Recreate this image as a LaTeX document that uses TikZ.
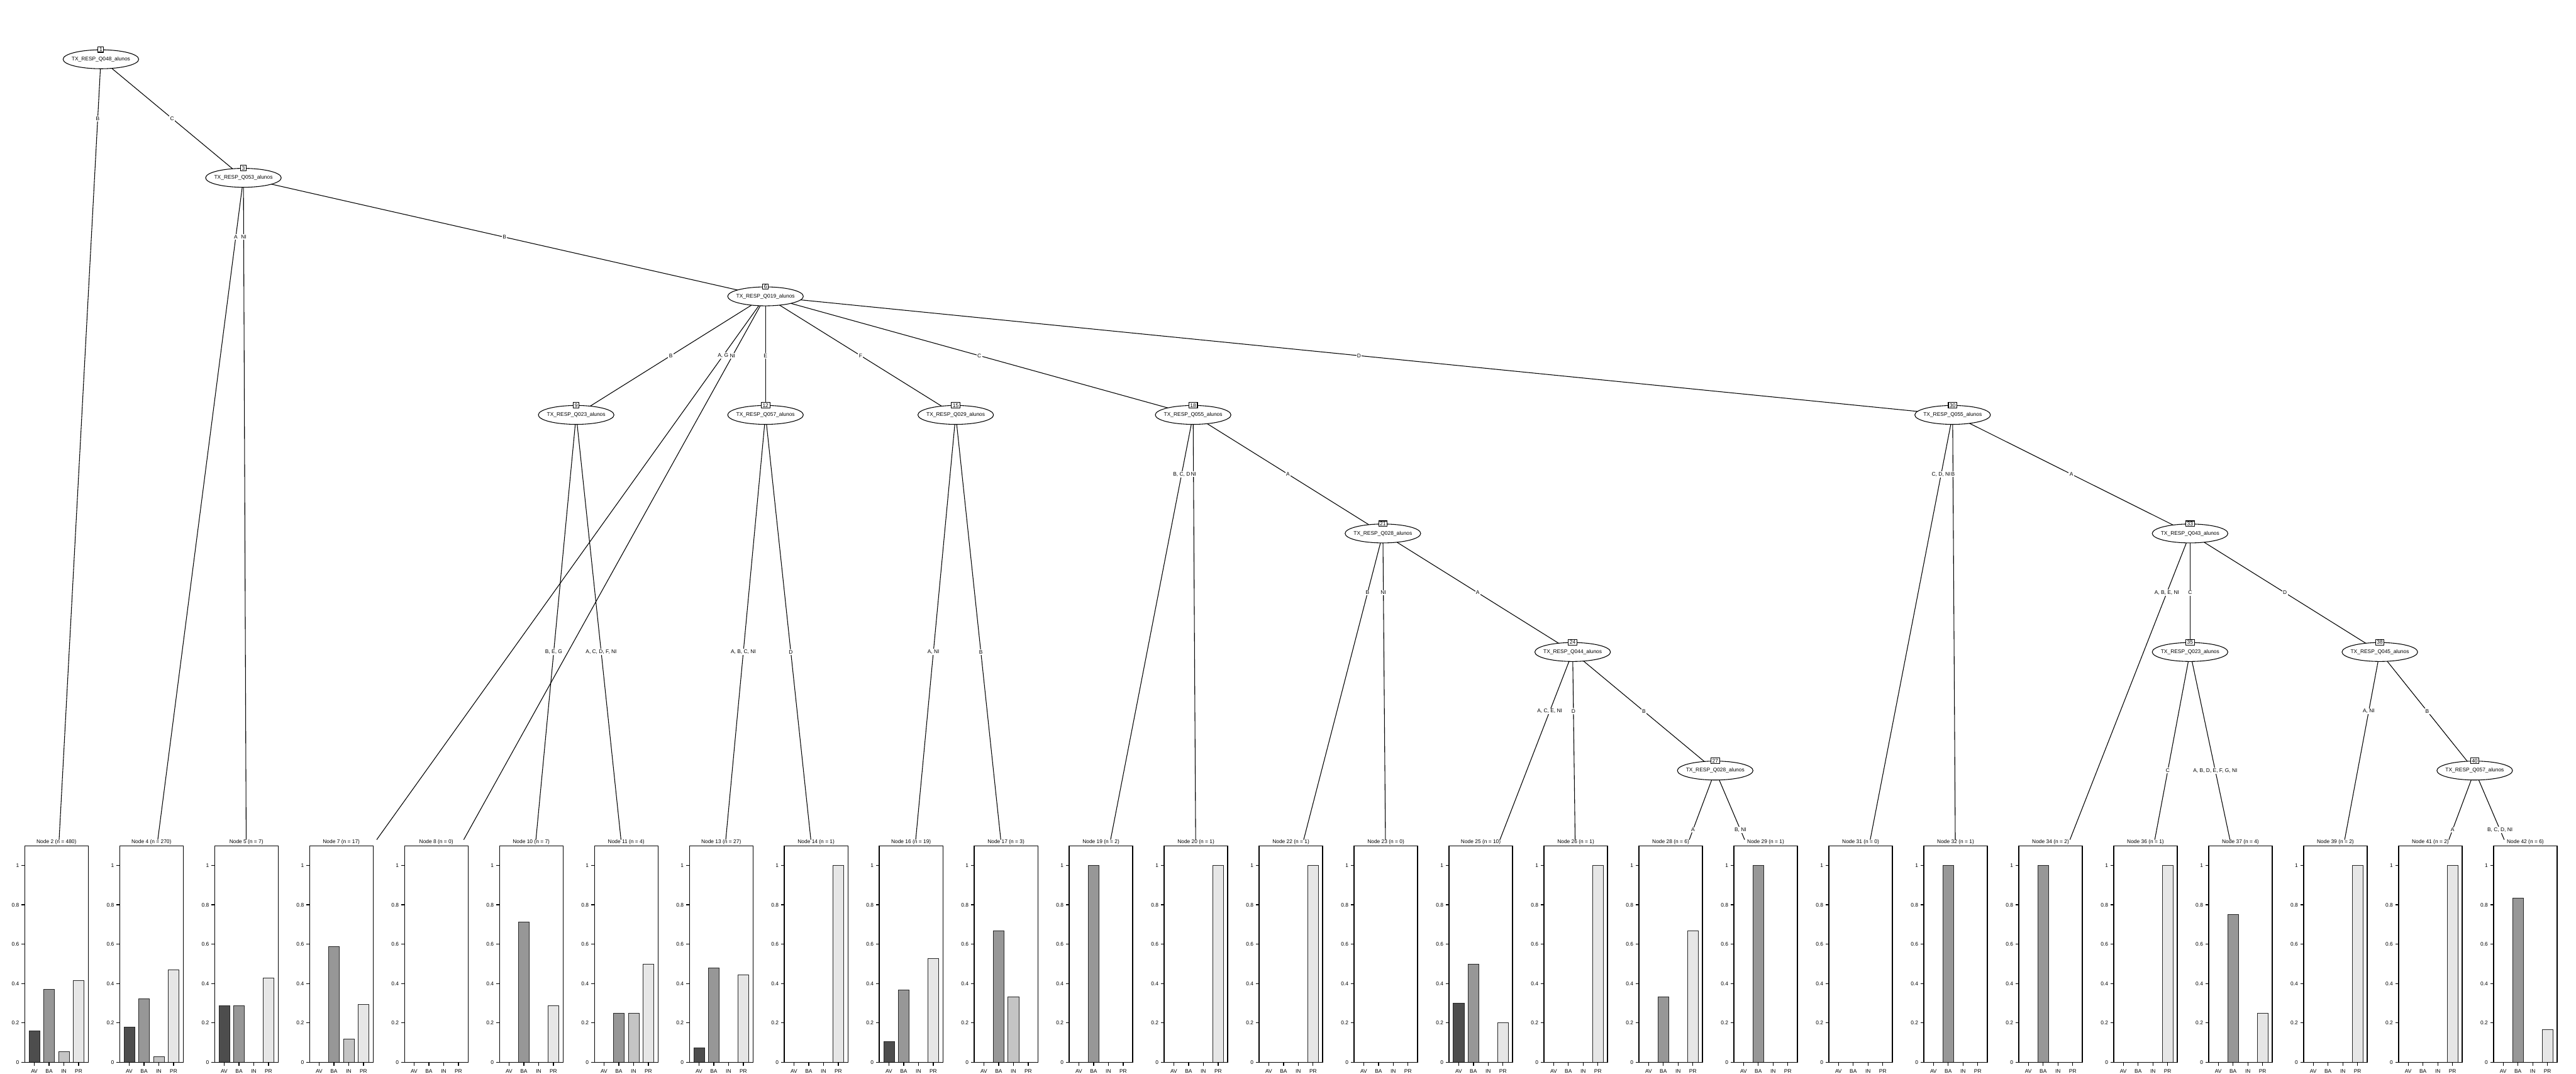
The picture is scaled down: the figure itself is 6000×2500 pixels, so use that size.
\documentclass[tikz,border=0pt]{standalone}
\usepackage{fontspec}
\setmainfont{Liberation Sans}
\usetikzlibrary{shapes.geometric,calc,backgrounds}
\definecolor{avc}{HTML}{4D4D4D}
\definecolor{bac}{HTML}{979797}
\definecolor{inc}{HTML}{C4C4C4}
\definecolor{prc}{HTML}{E6E6E6}
\tikzset{
  txt/.style={font=\fontsize{3.5}{4}\selectfont},
  splitnode/.style={txt,ellipse,draw,fill=white,line width=0.45pt,inner xsep=-2pt,inner ysep=0pt,minimum width=1.76cm,minimum height=0.44cm},
  idbox/.style={txt,draw,fill=white,line width=0.45pt,inner xsep=0.9pt,inner ysep=0.5pt,text height=2.6pt,text depth=0pt},
  link/.style={line width=0.45pt},
  lab/.style={txt,fill=white,inner sep=0.6pt},
  nodehead/.style={txt,inner sep=0.5pt},
  panelline/.style={line width=0.55pt},
  ticklab/.style={txt,inner sep=1.5pt},
  barbox/.style={draw=black!85,line width=0.3pt}
}
% one terminal panel: index, node, n, AV, BA, IN, PR
\newcommand\panel[7]{%
  \pgfmathsetmacro\cx{131.5+221.17*#1}
  \coordinate (a#2) at (\cx,2070);
  \node[nodehead,anchor=south] (t#2) at (\cx,1968) {Node #2 (n = #3)};
  \foreach \v/\c [count=\k from 0] in {#4/avc,#5/bac,#6/inc,#7/prc}
    \draw[barbox,fill=\c] ({\cx-51.6+34.4*\k-12.5},2473) rectangle ++(25,{-458*\v});
  \draw[panelline] (\cx-74,1969) rectangle (\cx+74,2473);
  \foreach \v in {0,0.2,0.4,0.6,0.8,1}
    \draw[panelline] (\cx-74,{2473-458*\v}) -- ++(-7,0) node[ticklab,left] {\v};
  \foreach \l [count=\k from 0] in {AV,BA,IN,PR}
    \draw[panelline] ({\cx-51.6+34.4*\k},2473) -- ++(0,9) node[ticklab,below,inner sep=2pt] {\l};
}
% edge to a terminal: parent, node, parent y, label y, label
\newcommand\tedge[5]{%
  \pgfmathsetmacro\er{(1955-#3)/(2070-#3)}
  \pgfmathsetmacro\et{(#4-#3)/(1955-#3)}
  \draw[link] (#1.center) -- ($(#1.center)!\er!(a#2)$) node[lab,pos=\et] (l#2) {#5};
}
\begin{document}
\begin{tikzpicture}[x=0.01cm,y=-0.01cm]
  \useasboundingbox (0,0) rectangle (6000,2500);
  % inner nodes
  \node[splitnode] (n1) at (235,138) {TX\_RESP\_Q048\_alunos};
  \node[idbox] (b1) at (n1.north) {1};
  \node[splitnode] (n3) at (567,414) {TX\_RESP\_Q053\_alunos};
  \node[idbox] (b3) at (n3.north) {3};
  \node[splitnode] (n6) at (1783,690) {TX\_RESP\_Q019\_alunos};
  \node[idbox] (b6) at (n6.north) {6};
  \node[splitnode] (n9) at (1342,966) {TX\_RESP\_Q023\_alunos};
  \node[idbox] (b9) at (n9.north) {9};
  \node[splitnode] (n12) at (1783,966) {TX\_RESP\_Q057\_alunos};
  \node[idbox] (b12) at (n12.north) {12};
  \node[splitnode] (n15) at (2226,966) {TX\_RESP\_Q029\_alunos};
  \node[idbox] (b15) at (n15.north) {15};
  \node[splitnode] (n18) at (2779,966) {TX\_RESP\_Q055\_alunos};
  \node[idbox] (b18) at (n18.north) {18};
  \node[splitnode] (n21) at (3221,1242) {TX\_RESP\_Q028\_alunos};
  \node[idbox] (b21) at (n21.north) {21};
  \node[splitnode] (n24) at (3663,1518) {TX\_RESP\_Q044\_alunos};
  \node[idbox] (b24) at (n24.north) {24};
  \node[splitnode] (n27) at (3995,1794) {TX\_RESP\_Q028\_alunos};
  \node[idbox] (b27) at (n27.north) {27};
  \node[splitnode] (n30) at (4548,966) {TX\_RESP\_Q055\_alunos};
  \node[idbox] (b30) at (n30.north) {30};
  \node[splitnode] (n33) at (5101,1242) {TX\_RESP\_Q043\_alunos};
  \node[idbox] (b33) at (n33.north) {33};
  \node[splitnode] (n35) at (5101,1518) {TX\_RESP\_Q023\_alunos};
  \node[idbox] (b35) at (n35.north) {35};
  \node[splitnode] (n38) at (5543,1518) {TX\_RESP\_Q045\_alunos};
  \node[idbox] (b38) at (n38.north) {38};
  \node[splitnode] (n40) at (5764,1794) {TX\_RESP\_Q057\_alunos};
  \node[idbox] (b40) at (n40.north) {40};
  % terminal panels
  \panel{0}{2}{480}{0.160}{0.370}{0.055}{0.415}
  \panel{1}{4}{270}{0.178}{0.322}{0.030}{0.470}
  \panel{2}{5}{7}{0.286}{0.286}{0}{0.429}
  \panel{3}{7}{17}{0}{0.588}{0.118}{0.294}
  \panel{4}{8}{0}{0}{0}{0}{0}
  \panel{5}{10}{7}{0}{0.714}{0}{0.286}
  \panel{6}{11}{4}{0}{0.25}{0.25}{0.5}
  \panel{7}{13}{27}{0.074}{0.481}{0}{0.444}
  \panel{8}{14}{1}{0}{0}{0}{1}
  \panel{9}{16}{19}{0.105}{0.368}{0}{0.526}
  \panel{10}{17}{3}{0}{0.667}{0.333}{0}
  \panel{11}{19}{2}{0}{1}{0}{0}
  \panel{12}{20}{1}{0}{0}{0}{1}
  \panel{13}{22}{1}{0}{0}{0}{1}
  \panel{14}{23}{0}{0}{0}{0}{0}
  \panel{15}{25}{10}{0.3}{0.5}{0}{0.2}
  \panel{16}{26}{1}{0}{0}{0}{1}
  \panel{17}{28}{6}{0}{0.333}{0}{0.667}
  \panel{18}{29}{1}{0}{1}{0}{0}
  \panel{19}{31}{0}{0}{0}{0}{0}
  \panel{20}{32}{1}{0}{1}{0}{0}
  \panel{21}{34}{2}{0}{1}{0}{0}
  \panel{22}{36}{1}{0}{0}{0}{1}
  \panel{23}{37}{4}{0}{0.75}{0}{0.25}
  \panel{24}{39}{2}{0}{0}{0}{1}
  \panel{25}{41}{2}{0}{0}{0}{1}
  \panel{26}{42}{6}{0}{0.833}{0}{0.167}
  \begin{pgfonlayer}{background}
    \fill[white] (0,0) rectangle (6000,2500);
    % splits between inner nodes
    \draw[link] (n1.center) -- (n3.center) node[lab,midway] (l3) {C};
    \draw[link] (n3.center) -- (n6.center) node[lab,midway] (l6) {B};
    \draw[link] (n6.center) -- (n9.center) node[lab,midway] (l9) {B};
    \draw[link] (n6.center) -- (n12.center) node[lab,midway] (l12) {E};
    \draw[link] (n6.center) -- (n15.center) node[lab,midway] (l15) {F};
    \draw[link] (n6.center) -- (n18.center) node[lab,midway] (l18) {C};
    \draw[link] (n6.center) -- (n30.center) node[lab,midway] (l30) {D};
    \draw[link] (n18.center) -- (n21.center) node[lab,midway] (l21) {A};
    \draw[link] (n21.center) -- (n24.center) node[lab,midway] (l24) {A};
    \draw[link] (n24.center) -- (n27.center) node[lab,midway] (l27) {B};
    \draw[link] (n30.center) -- (n33.center) node[lab,midway] (l33) {A};
    \draw[link] (n33.center) -- (n35.center) node[lab,midway] (l35) {C};
    \draw[link] (n33.center) -- (n38.center) node[lab,midway] (l38) {D};
    \draw[link] (n38.center) -- (n40.center) node[lab,midway] (l40) {B};
    % splits to terminal nodes
    \tedge{n1}{2}{138}{276}{B}
    \tedge{n3}{4}{414}{552}{A}
    \tedge{n3}{5}{414}{552}{NI}
    \tedge{n6}{7}{690}{828}{A, G}
    \tedge{n6}{8}{690}{828}{NI}
    \tedge{n9}{10}{966}{1518}{B, E, G}
    \tedge{n9}{11}{966}{1518}{A, C, D, F, NI}
    \tedge{n12}{13}{966}{1518}{A, B, C, NI}
    \tedge{n12}{14}{966}{1518}{D}
    \tedge{n15}{16}{966}{1518}{A, NI}
    \tedge{n15}{17}{966}{1518}{B}
    \tedge{n18}{19}{966}{1104}{B, C, D}
    \tedge{n18}{20}{966}{1104}{NI}
    \tedge{n21}{22}{1242}{1380}{B}
    \tedge{n21}{23}{1242}{1380}{NI}
    \tedge{n24}{25}{1518}{1656}{A, C, E, NI}
    \tedge{n24}{26}{1518}{1656}{D}
    \tedge{n27}{28}{1794}{1932}{A}
    \tedge{n27}{29}{1794}{1932}{B, NI}
    \tedge{n30}{31}{966}{1104}{C, D, NI}
    \tedge{n30}{32}{966}{1104}{B}
    \tedge{n33}{34}{1242}{1380}{A, B, E, NI}
    \tedge{n35}{36}{1518}{1794}{C}
    \tedge{n35}{37}{1518}{1794}{A, B, D, E, F, G, NI}
    \tedge{n38}{39}{1518}{1656}{A, NI}
    \tedge{n40}{41}{1794}{1932}{A}
    \tedge{n40}{42}{1794}{1932}{B, C, D, NI}
  \end{pgfonlayer}
\end{tikzpicture}
\end{document}
